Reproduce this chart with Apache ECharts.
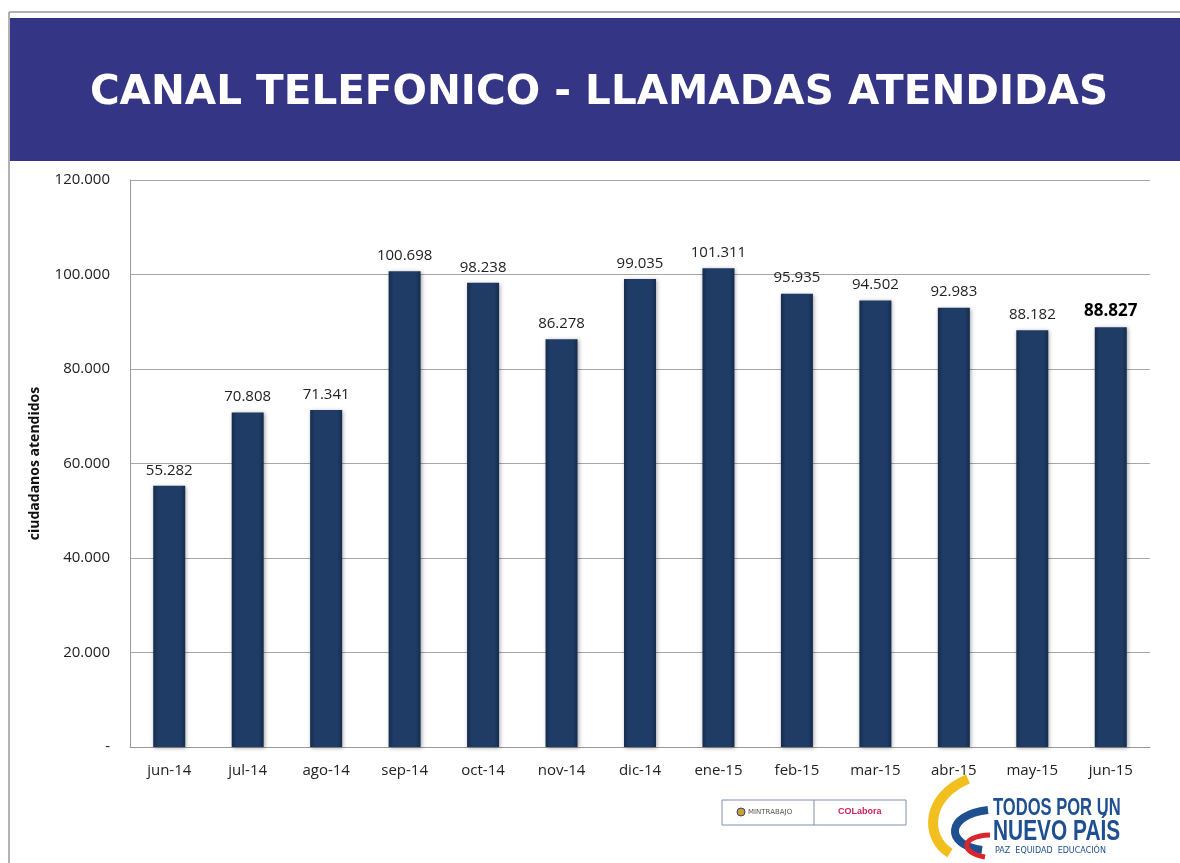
<!DOCTYPE html>
<html>
<head>
<meta charset="utf-8">
<script src="https://cdn.jsdelivr.net/npm/echarts@6/dist/echarts.min.js"></script>
<style>
  html, body { margin: 0; padding: 0; background: #fff; }
  #chart { width: 1180px; height: 863px; }
</style>
</head>
<body>
<div id="chart"></div>
<script>
// months shown on the x axis
var months = ['jun-14', 'jul-14', 'ago-14', 'sep-14', 'oct-14', 'nov-14', 'dic-14',
  'ene-15', 'feb-15', 'mar-15', 'abr-15', 'may-15', 'jun-15'];
// calls answered per month
var llamadas = [55282, 70808, 71341, 100698, 98238, 86278, 99035,
  101311, 95935, 94502, 92983, 88182, 88827];

function fmt(v) {
  if (v === 0) return '-';
  return String(v).replace(/\B(?=(\d{3})+(?!\d))/g, '.');
}

var chart = echarts.init(document.getElementById('chart'));

var barColor = new echarts.graphic.LinearGradient(0, 0, 1, 0, [
  { offset: 0, color: '#152c4c' },
  { offset: 0.15, color: '#1f3c66' },
  { offset: 0.85, color: '#1f3c66' },
  { offset: 1, color: '#152c4c' }
]);

var option = {
  animation: false,
  backgroundColor: '#fff',
  graphic: [
    // slide frame
    { type: 'line', shape: { x1: 9, y1: 12, x2: 1180, y2: 12 }, style: { stroke: '#999', lineWidth: 1.5 } },
    { type: 'line', shape: { x1: 9, y1: 12, x2: 9, y2: 863 }, style: { stroke: '#999', lineWidth: 1.5 } },
    // title banner
    { type: 'rect', shape: { x: 10, y: 18, width: 1170, height: 143 }, style: { fill: '#353585' } },
    {
      type: 'text', x: 599, y: 93,
      style: {
        text: 'CANAL TELEFONICO - LLAMADAS ATENDIDAS',
        fill: '#fff', font: 'bold 40.5px "DejaVu Sans"',
        align: 'center', verticalAlign: 'middle'
      }
    },
    // logos at the bottom
    { type: 'rect', shape: { x: 722, y: 800, width: 184, height: 25 }, style: { fill: '#fff', stroke: '#7f8fb0', lineWidth: 1 } },
    { type: 'line', shape: { x1: 814, y1: 800, x2: 814, y2: 825 }, style: { stroke: '#7f8fb0', lineWidth: 1 } },
    { type: 'circle', shape: { cx: 741, cy: 812, r: 4 }, style: { fill: '#c9a227', stroke: '#3a3a8a', lineWidth: 1 } },
    { type: 'text', x: 748, y: 812, style: { text: 'MINTRABAJO', fill: '#555', font: '7px "DejaVu Sans"', verticalAlign: 'middle' } },
    { type: 'text', x: 838, y: 812, style: { text: 'COLabora', fill: '#d0205a', font: 'bold 9px "Liberation Sans"', verticalAlign: 'middle' } },
    // swoosh of the "Todos por un nuevo país" logo
    { type: 'bezierCurve', shape: { x1: 968, y1: 779, x2: 950, y2: 853, cpx1: 925, cpy1: 797, cpx2: 925, cpy2: 838 }, style: { stroke: '#f2c01e', lineWidth: 10, fill: null } },
    { type: 'bezierCurve', shape: { x1: 988, y1: 810, x2: 982, y2: 850, cpx1: 945, cpy1: 815, cpx2: 945, cpy2: 845 }, style: { stroke: '#1d4f91', lineWidth: 8, fill: null } },
    { type: 'bezierCurve', shape: { x1: 990, y1: 835, x2: 985, y2: 857, cpx1: 960, cpy1: 836, cpx2: 960, cpy2: 853 }, style: { stroke: '#d8262c', lineWidth: 5, fill: null } },
    { type: 'text', x: 993, y: 809, scaleX: 0.72, style: { text: 'TODOS POR UN', fill: '#1d4f91', font: 'bold 23px "Liberation Sans"', verticalAlign: 'middle' } },
    { type: 'text', x: 993, y: 832, scaleX: 0.72, style: { text: 'NUEVO PAÍS', fill: '#1d4f91', font: 'bold 29px "Liberation Sans"', verticalAlign: 'middle' } },
    { type: 'text', x: 995, y: 851, style: { text: 'PAZ  EQUIDAD  EDUCACIÓN', fill: '#1d4f91', font: '8px "DejaVu Sans"', verticalAlign: 'middle' } }
  ],
  grid: { left: 130, right: 30, top: 180, bottom: 116, containLabel: false },
  xAxis: {
    type: 'category',
    data: months,
    axisLine: { lineStyle: { color: '#999' } },
    axisTick: { show: false },
    axisLabel: { color: '#222', fontSize: 15, fontFamily: 'Open Sans', margin: 16 }
  },
  yAxis: {
    type: 'value',
    min: 0, max: 120000, interval: 20000,
    name: 'ciudadanos atendidos',
    nameLocation: 'middle',
    nameGap: 88,
    nameTextStyle: { color: '#111', fontSize: 14, fontWeight: 'bold', fontFamily: 'Open Sans' },
    axisLine: { show: true, lineStyle: { color: '#999' } },
    axisTick: { show: false },
    splitLine: { lineStyle: { color: '#a6a6a6' } },
    axisLabel: {
      color: '#222', fontSize: 15, fontFamily: 'Open Sans', margin: 20,
      formatter: fmt
    }
  },
  series: [{
    type: 'bar',
    data: llamadas.map(function (v, i) {
      var last = i === llamadas.length - 1;
      return {
        value: v,
        label: last ? { fontWeight: 'bold', fontSize: 17, color: '#000' } : undefined
      };
    }),
    barWidth: 32,
    itemStyle: {
      color: barColor,
      shadowColor: 'rgba(0,0,0,0.35)',
      shadowBlur: 4,
      shadowOffsetX: 1,
      shadowOffsetY: 1
    },
    label: {
      show: true,
      position: 'top',
      distance: 8,
      color: '#222',
      fontSize: 15,
      fontFamily: 'Open Sans',
      formatter: function (p) { return fmt(p.value); }
    }
  }]
};

chart.setOption(option);
</script>
</body>
</html>
